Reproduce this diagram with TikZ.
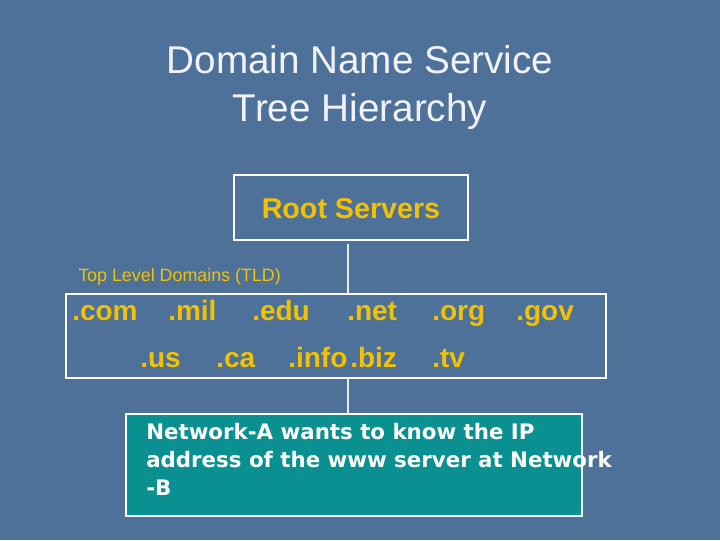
\documentclass[tikz,border=0pt]{standalone}
\usepackage{fontspec}
\setmainfont{Liberation Sans}
\newfontfamily\verd{DejaVu Sans}
\begin{document}
\definecolor{bg}{HTML}{4D7199}
\definecolor{yl}{HTML}{F2C200}
\definecolor{tl}{HTML}{0A9090}
\begin{tikzpicture}[x=0.75pt,y=-0.75pt,
  box/.style={draw=white,line width=0.9pt},
  tld/.style={text=yl,font=\fontsize{21}{24}\selectfont\bfseries,anchor=base west,inner sep=0pt},
  ln/.style={draw=white!85!gray,line width=0.8pt}]
\fill[bg] (0,0) rectangle (720,540);
\node[text=white!95!blue,align=center,font=\fontsize{29}{36}\selectfont] (title) at (360,87) {Domain Name Service\\Tree Hierarchy};
\draw[box] (234,175) rectangle (468,240);
\node[text=yl,font=\fontsize{21.5}{24}\selectfont\bfseries] (root) at (351,209) {Root Servers};
\coordinate (rb) at (348,244);
\coordinate (tt) at (348,294);
\draw[ln] (rb) -- (tt);
\node[text=yl,anchor=west,inner sep=0pt,font=\fontsize{13.4}{16}\selectfont] (lbl) at (78,277) {Top Level Domains (TLD)};
\draw[box] (66,294) rectangle (606,378);
\node[tld] (com) at (72,320) {.com};
\node[tld] (mil) at (168,320) {.mil};
\node[tld] (edu) at (252,320) {.edu};
\node[tld] (net) at (347,320) {.net};
\node[tld] (org) at (432,320) {.org};
\node[tld] (gov) at (516,320) {.gov};
\node[tld] (us) at (140,367) {.us};
\node[tld] (ca) at (216,367) {.ca};
\node[tld] (info) at (288,367) {.info};
\node[tld] (biz) at (350,367) {.biz};
\node[tld] (tv) at (432,367) {.tv};
\coordinate (tb) at (348,378);
\coordinate (nt) at (348,414);
\draw[ln] (tb) -- (nt);
\draw[fill=tl,draw=white,line width=0.8pt] (126,414) rectangle (582,516);
\node[text=white,anchor=north west,inner sep=0pt,align=left,font=\verd\bfseries\fontsize{16}{21}\selectfont] (msg) at (146,423) {Network-A wants to know the IP\\address of the www server at Network\\-B};
\end{tikzpicture}
\end{document}
